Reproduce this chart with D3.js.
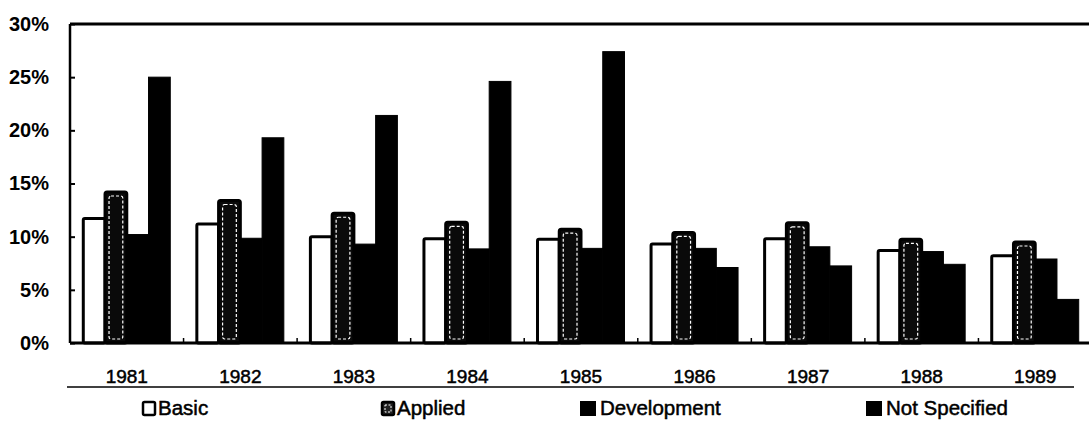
<!DOCTYPE html>
<html>
<head>
<meta charset="utf-8">
<script src="https://cdn.jsdelivr.net/npm/d3@7"></script>
<style>
  html, body { margin: 0; padding: 0; background: #fff; }
  svg { display: block; }
  text { font-family: "Liberation Sans", Arial, sans-serif; fill: #000; }
</style>
</head>
<body>
<svg id="chart" width="1089" height="425"></svg>
<script>
// R&D share by type of work, 1981-1989 (percent)
const years = ["1981", "1982", "1983", "1984", "1985", "1986", "1987", "1988", "1989"];
const seriesNames = ["Basic", "Applied", "Development", "Not Specified"];
const basic        = [11.7, 11.2, 10.0, 9.8, 9.75, 9.3, 9.8, 8.7, 8.2];
const applied      = [14.2, 13.4, 12.2, 11.35, 10.7, 10.4, 11.3, 9.75, 9.5];
const development  = [10.2, 9.85, 9.3, 8.85, 8.9, 8.9, 9.05, 8.6, 7.9];
const notSpecified = [25.0, 19.3, 21.4, 24.6, 27.4, 7.1, 7.25, 7.4, 4.1];
const yTicks = [0, 5, 10, 15, 20, 25, 30];

const seriesValues = [basic, applied, development, notSpecified];

const svg = d3.select("#chart");
const plotLeft = 70, plotRight = 1092, plotTop = 24, plotBottom = 343;

const x = d3.scaleBand().domain(years).range([plotLeft, plotRight]).paddingInner(0.234).paddingOuter(0.117);
const xs = d3.scaleBand().domain(seriesNames).range([0, x.bandwidth()]);
const y = d3.scaleLinear().domain([0, 30]).range([plotBottom, plotTop]);

// bars
const groups = svg.append("g").selectAll("g")
  .data(years).join("g")
  .attr("transform", d => `translate(${x(d)},0)`);

function drawBar(g, name, v) {
  const bx = xs(name), w = xs.bandwidth();
  const by = y(v), h = y(0) - y(v);
  if (name === "Basic") {
    g.append("rect").attr("x", bx).attr("y", by).attr("width", w).attr("height", h)
      .attr("fill", "#fff").attr("stroke", "#000").attr("stroke-width", 3).attr("rx", 1.5);
  } else if (name === "Applied") {
    g.append("rect").attr("x", bx).attr("y", by).attr("width", w).attr("height", h)
      .attr("fill", "#0a0a0a").attr("stroke", "#000").attr("stroke-width", 3).attr("rx", 2);
    g.append("rect").attr("x", bx + 4).attr("y", by + 4).attr("width", w - 8).attr("height", Math.max(0, h - 8))
      .attr("fill", "none").attr("stroke", "#fff").attr("stroke-width", 1.2)
      .attr("stroke-dasharray", "3,2").attr("rx", 2);
  } else {
    g.append("rect").attr("x", bx).attr("y", by).attr("width", w).attr("height", h)
      .attr("fill", "#000").attr("stroke", "#000").attr("stroke-width", 1);
  }
}

groups.each(function (yr, i) {
  const g = d3.select(this);
  seriesNames.forEach((name, k) => drawBar(g, name, seriesValues[k][i]));
});

// frame: top rule and baseline
svg.append("line").attr("x1", plotLeft).attr("x2", 1089).attr("y1", plotTop).attr("y2", plotTop)
  .attr("stroke", "#000").attr("stroke-width", 3);
svg.append("line").attr("x1", plotLeft).attr("x2", 1089).attr("y1", plotBottom).attr("y2", plotBottom)
  .attr("stroke", "#000").attr("stroke-width", 3);

// y axis with inward ticks
const yAxis = d3.axisLeft(y).tickValues(yTicks).tickSize(-5).tickPadding(21)
  .tickFormat(d => d + "%");
const yg = svg.append("g").attr("transform", `translate(${plotLeft},0)`).call(yAxis);
yg.select(".domain").attr("stroke", "#000").attr("stroke-width", 2.5).attr("d", `M0,${plotTop}V${plotBottom}`);
yg.selectAll(".tick line").attr("stroke", "#000").attr("stroke-width", 2);
yg.selectAll(".tick text").attr("font-size", 20).attr("font-weight", "bold")
  .attr("font-family", "Liberation Sans, Arial, sans-serif").attr("fill", "#000");

// category boundary ticks along the baseline
const bounds = years.slice(1).map(d => x(d) - x.step() * x.paddingInner() / 2);
svg.append("g").selectAll("line").data(bounds).join("line")
  .attr("x1", d => d).attr("x2", d => d).attr("y1", plotBottom).attr("y2", plotBottom - 5)
  .attr("stroke", "#000").attr("stroke-width", 1.5);

// year labels
svg.append("g").selectAll("text").data(years).join("text")
  .attr("x", d => x(d) + x.bandwidth() / 2).attr("y", 383)
  .attr("text-anchor", "middle").attr("font-size", 19)
  .attr("stroke", "#000").attr("stroke-width", 0.5)
  .text(d => d);

// rule under the year labels
svg.append("line").attr("x1", 67).attr("x2", 1074).attr("y1", 387).attr("y2", 387)
  .attr("stroke", "#000").attr("stroke-width", 1.5);

// legend
const legendX = [142, 381, 580, 866];
const legend = svg.append("g").selectAll("g").data(seriesNames).join("g")
  .attr("transform", (d, i) => `translate(${legendX[i]},401)`);
legend.each(function (name) {
  const g = d3.select(this);
  if (name === "Basic") {
    g.append("rect").attr("x", 1).attr("y", 1).attr("width", 12).attr("height", 13)
      .attr("fill", "#fff").attr("stroke", "#000").attr("stroke-width", 2.5).attr("rx", 1.5);
  } else if (name === "Applied") {
    g.append("rect").attr("x", 1).attr("y", 1).attr("width", 12).attr("height", 13)
      .attr("fill", "#222").attr("stroke", "#000").attr("stroke-width", 2.5).attr("rx", 1.5);
    g.append("rect").attr("x", 4).attr("y", 4).attr("width", 6).attr("height", 7)
      .attr("fill", "none").attr("stroke", "#fff").attr("stroke-width", 1).attr("stroke-dasharray", "2,1.5");
  } else {
    g.append("rect").attr("x", 0).attr("y", 0).attr("width", 16).attr("height", 15).attr("fill", "#000");
  }
  g.append("text").attr("x", name === "Basic" || name === "Applied" ? 16 : 20).attr("y", 14)
    .attr("font-size", 20.5).attr("stroke", "#000").attr("stroke-width", 0.5)
    .text(name);
});
</script>
</body>
</html>
